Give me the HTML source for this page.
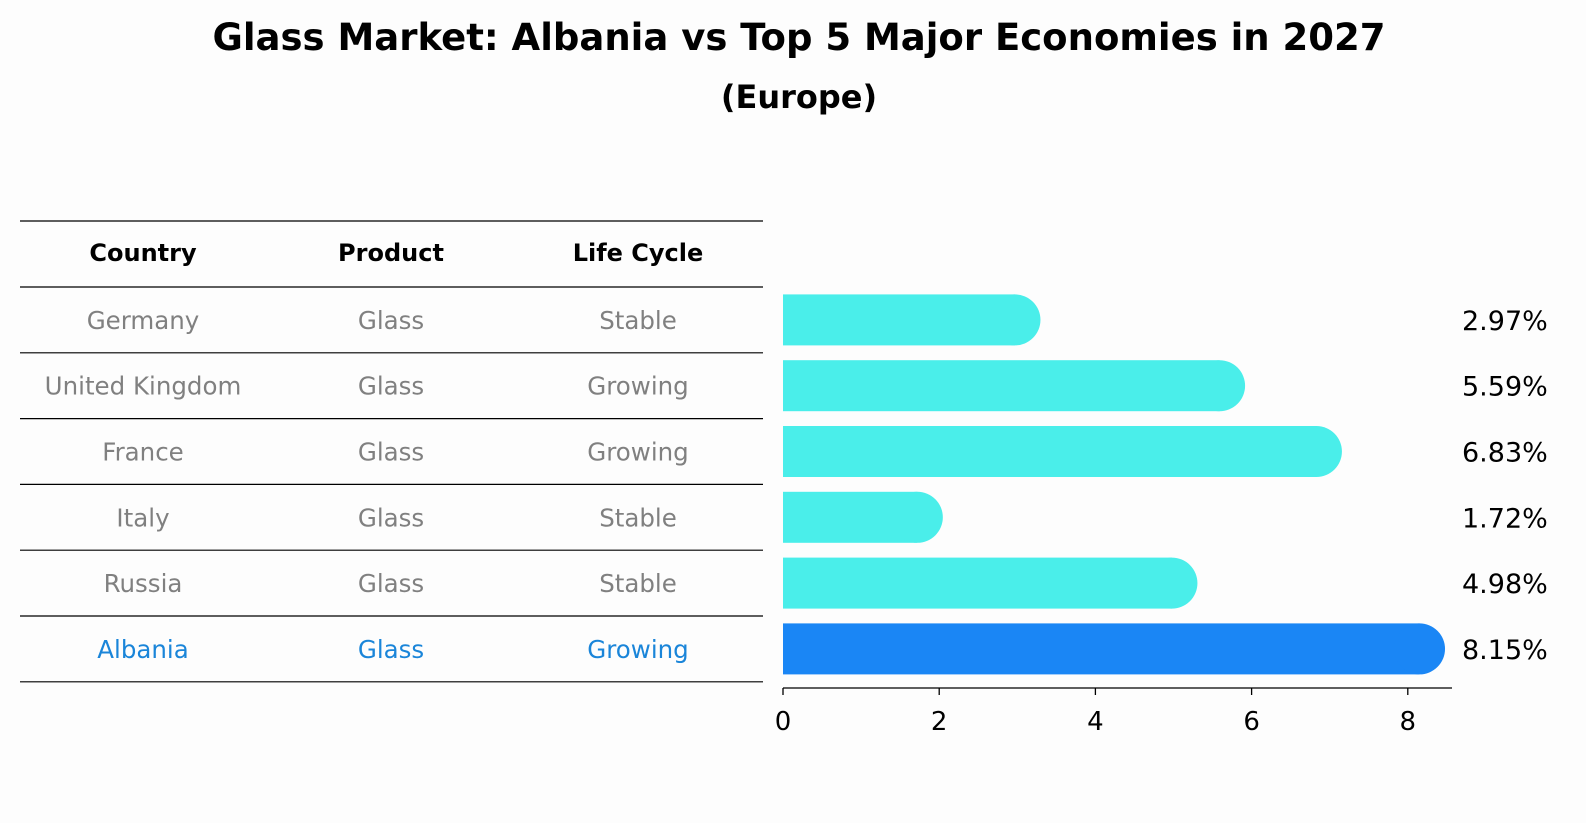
<!DOCTYPE html>
<html><head><meta charset="utf-8">
<style>
body{margin:0;background:#fdfdfd;font-family:"DejaVu Sans","Liberation Sans",sans-serif;}
#root{position:relative;width:1586px;height:823px;overflow:hidden;}
</style></head>
<body>
<div id="root">
<svg id="svg" width="1586" height="823" style="position:absolute;left:0;top:0;font-family:'DejaVu Sans','Liberation Sans',sans-serif">
<text x="799" y="50" text-anchor="middle" font-size="37" font-weight="bold">Glass Market: Albania vs Top 5 Major Economies in 2027</text>
<text x="799" y="108" text-anchor="middle" font-size="32" font-weight="bold">(Europe)</text>
</svg>
</div>
<script>
const countries=["Germany","United Kingdom","France","Italy","Russia","Albania"];
const products=["Glass","Glass","Glass","Glass","Glass","Glass"];
const lifeCycles=["Stable","Growing","Growing","Stable","Stable","Growing"];
const values=[2.97,5.59,6.83,1.72,4.98,8.15];
const ticks=[0,2,4,6,8];
const svg=document.getElementById('svg');
const NS='http://www.w3.org/2000/svg';
function mk(tag,attrs,txt){const e=document.createElementNS(NS,tag);for(const k in attrs)e.setAttribute(k,attrs[k]);if(txt!==undefined)e.textContent=txt;svg.appendChild(e);return e;}
const x0=783,pxPer=78.1;
const xs=v=>x0+v*pxPer;
const rowTop=287,rowH=65.8;
const yc=i=>rowTop+rowH*(i+0.5);
const colX=[143,391,638];
for(let i=0;i<=countries.length+1;i++){
  const y=i===0?221:rowTop+rowH*(i-1);
  const l=mk('line',{x1:20,x2:763,y1:y,y2:y,stroke:'#000','stroke-width':1.2});
  
  
}
["Country","Product","Life Cycle"].forEach((h,j)=>{
  const t=mk('text',{x:colX[j],y:261,'text-anchor':'middle','font-size':24,'font-weight':'bold',fill:'#000'},h);
  
  
});
countries.forEach((c,i)=>{
  const col=i===countries.length-1?'#1a85d9':'#808080';
  [c,products[i],lifeCycles[i]].forEach((v,j)=>{
    const t=mk('text',{x:colX[j],y:yc(i)+9,'text-anchor':'middle','font-size':24.5,fill:col},v);
    
    
  });
  const hi=i===countries.length-1;
  const fill=hi?'#1a86f5':'#4aeeea';
  const h=51,top=yc(i)-h/2;
  const r=mk('rect',{x:x0,y:top,width:xs(values[i])-x0,height:h,fill:fill});
  
  
  const cap=mk('circle',{cx:xs(values[i]),cy:yc(i),r:h/2,fill:fill});
  
  
  const lb=mk('text',{x:1462,y:yc(i)+10,'font-size':27,fill:'#000'},values[i].toFixed(2)+'%');
  
  
});
const ax=mk('line',{x1:x0,x2:1452,y1:688,y2:688,stroke:'#000','stroke-width':1.3});


ticks.forEach(t=>{
  const l=mk('line',{x1:xs(t),x2:xs(t),y1:688,y2:695,stroke:'#000','stroke-width':1.3});
  
  
  const tx=mk('text',{x:xs(t),y:730,'text-anchor':'middle','font-size':26,fill:'#000'},String(t));
  
  
});
</script>
</body></html>
